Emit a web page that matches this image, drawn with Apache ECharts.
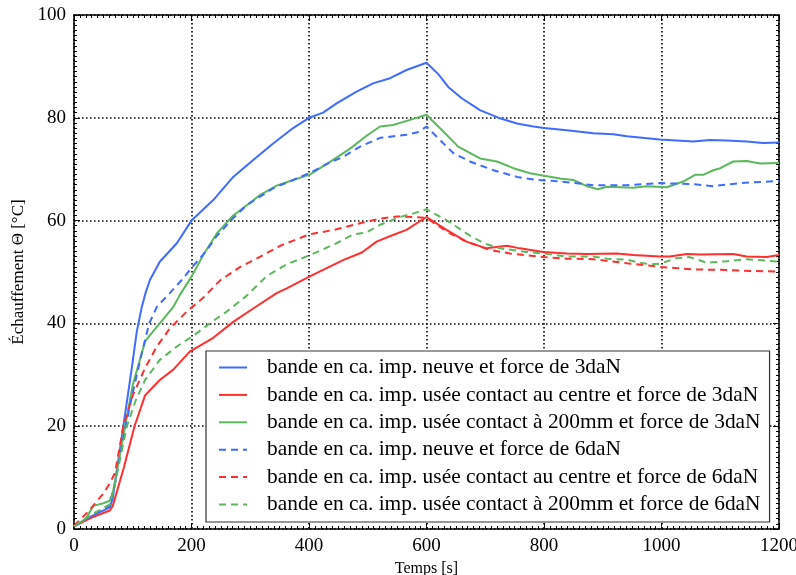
<!DOCTYPE html>
<html>
<head>
<meta charset="utf-8">
<script src="https://cdn.jsdelivr.net/npm/echarts@6/dist/echarts.min.js"></script>
<style>
html,body{margin:0;padding:0;background:#fff;}
#chart{width:796px;height:575px;}
</style>
</head>
<body>
<div id="chart"></div>
<script>
// Series data: [time (s), heating (°C)]
const neuve3 = [[0,0.5],[30,2.5],[61,4.2],[66,6],[84,20],[98,31],[107,38.5],[115,43],[122,46],[129,48.4],[146,52],[175,55.6],[200,60],[237,64],[271,68.5],[305,71.8],[339,75],[373,78],[400,80],[424,81],[447,82.8],[481,85.1],[509,86.7],[538,87.7],[566,89.3],[600,90.7],[620,88.5],[637,86],[660,83.8],[691,81.5],[725,79.9],[754,78.9],[782,78.3],[800,78],[839,77.6],[884,77],[918,76.8],[941,76.4],[997,75.8],[1054,75.4],[1082,75.7],[1111,75.6],[1145,75.4],[1173,75.1],[1200,75.2]];
const centre3 = [[0,0.5],[30,2.2],[61,3.6],[66,4.5],[85,12],[103,20],[121,26],[146,29],[169,31],[197,34.5],[237,37.2],[271,40.3],[305,42.9],[345,45.9],[362,46.8],[399,49],[424,50.4],[458,52.3],[490,53.8],[515,55.9],[543,57.2],[566,58.2],[600,60.7],[634,58.2],[668,55.9],[702,54.6],[737,55.1],[759,54.6],[799,53.9],[839,53.6],[873,53.5],[924,53.6],[952,53.3],[997,53],[1014,53],[1043,53.5],[1066,53.4],[1122,53.5],[1145,53],[1179,52.9],[1200,53.3]];
const mm200_3 = [[0,0.5],[20,2],[33,4.5],[50,5],[61,5.5],[66,7],[87,20],[100,28],[121,36.5],[135,38.5],[146,40],[169,43.2],[180,45.5],[200,49.1],[220,53.3],[243,57.5],[271,61],[294,63],[317,65],[345,66.8],[373,67.9],[402,69],[441,71.8],[470,74],[498,76.5],[521,78.3],[543,78.6],[572,79.6],[600,80.6],[629,77.3],[654,74.4],[691,72.1],[720,71.5],[748,70.2],[776,69.2],[827,68.2],[850,67.9],[873,66.7],[892,66.1],[907,66.6],[952,66.4],[975,66.7],[1009,66.5],[1037,67.6],[1057,68.9],[1071,68.9],[1088,69.8],[1100,70.2],[1122,71.5],[1145,71.6],[1168,71.1],[1200,71.2]];
const neuve6 = [[0,0.5],[30,2.6],[61,4.6],[70,9],[86,19],[100,26.5],[115,34],[128,40],[141,43.2],[163,45.9],[183,48.4],[200,50.8],[226,54.2],[243,57],[271,60.5],[294,63],[339,66.3],[373,67.9],[402,69.3],[430,71],[458,72.4],[487,74.4],[521,76.1],[566,76.7],[585,77.2],[600,78.3],[629,75],[646,73.1],[674,71.5],[714,69.8],[754,68.5],[782,68],[827,67.6],[884,66.9],[941,66.9],[997,67.3],[1054,67.1],[1088,66.7],[1134,67.3],[1200,67.7]];
const centre6 = [[0,0.6],[25,3.5],[50,6.9],[61,8.9],[70,11],[84,20],[100,26],[121,31.3],[141,35.5],[163,39],[192,42.3],[220,45],[249,48.4],[283,51],[317,53],[351,55.1],[400,57.3],[447,58.3],[487,59.5],[521,60.4],[549,60.8],[578,60.7],[600,60.5],[640,57.5],[668,55.9],[708,54.3],[742,53.6],[799,52.9],[839,52.6],[884,52.5],[941,51.7],[997,51],[1054,50.5],[1111,50.4],[1150,50.2],[1200,50.1]];
const mm200_6 = [[0,0.5],[30,2.8],[61,4.8],[70,9],[90,20],[105,25],[121,29],[146,32.9],[175,35.5],[203,37.6],[237,40.5],[260,42.3],[294,45.4],[328,49.2],[362,51.5],[400,53.2],[447,55.6],[475,57.3],[498,57.7],[521,59.2],[555,60.7],[578,61.4],[600,62.2],[634,60.1],[668,57.5],[697,55.6],[725,54.6],[770,53.9],[800,53.6],[839,53],[884,53],[907,52.6],[941,52.4],[963,51.8],[980,51.5],[997,51.6],[1026,52.7],[1048,52.9],[1077,51.8],[1111,52.1],[1145,52.5],[1200,52]];

const seriesNames = [
  'bande en ca. imp. neuve et force de 3daN',
  'bande en ca. imp. usée contact au centre et force de 3daN',
  'bande en ca. imp. usée contact à 200mm et force de 3daN',
  'bande en ca. imp. neuve et force de 6daN',
  'bande en ca. imp. usée contact au centre et force de 6daN',
  'bande en ca. imp. usée contact à 200mm et force de 6daN'
];
const seriesData = [neuve3, centre3, mm200_3, neuve6, centre6, mm200_6];
const xTicks = {min: 0, max: 1200, interval: 200};
const yTicks = {min: 0, max: 100, interval: 20};

const BLUE = '#3f6cff', RED = '#ff2f2f', GREEN = '#5cb85c';
const colors = [BLUE, RED, GREEN, BLUE, RED, GREEN];
const dashed = [false, false, false, true, true, true];
const serif = 'Liberation Serif';

function axisCommon(showLabel) {
  return {
    axisLine: {onZero: false, lineStyle: {color: '#000', width: 1.5}},
    axisTick: {show: true, inside: true, length: 6, lineStyle: {color: '#000', width: 1}},
    minorTick: {show: true, splitNumber: 20, length: 3, lineStyle: {color: '#000', width: 1}},
    axisLabel: {show: showLabel, fontFamily: serif, fontSize: 19, color: '#000',
      formatter: function (v) { return String(v); }},
  };
}

const option = {
  animation: false,
  backgroundColor: '#fff',
  grid: {left: 74, right: 17, top: 15, bottom: 46, containLabel: false, outerBoundsMode: 'none'},
  xAxis: [
    Object.assign({type: 'value', position: 'bottom', min: xTicks.min, max: xTicks.max, interval: xTicks.interval,
      splitLine: {show: true, lineStyle: {color: '#000', type: [1.5, 2.5], width: 1.6}},
      name: 'Temps [s]', nameLocation: 'middle', nameGap: 25,
      nameTextStyle: {fontFamily: serif, fontSize: 16, color: '#000'}}, axisCommon(true)),
    Object.assign({type: 'value', position: 'top', min: xTicks.min, max: xTicks.max, interval: xTicks.interval,
      splitLine: {show: false}}, axisCommon(false))
  ],
  yAxis: [
    Object.assign({type: 'value', position: 'left', min: yTicks.min, max: yTicks.max, interval: yTicks.interval,
      splitLine: {show: true, lineStyle: {color: '#000', type: [1.5, 2.5], width: 1.6}},
      name: 'Échauffement Θ [°C]', nameLocation: 'middle', nameGap: 46, nameRotate: 90,
      nameTextStyle: {fontFamily: serif, fontSize: 17, color: '#000'}}, axisCommon(true)),
    Object.assign({type: 'value', position: 'right', min: yTicks.min, max: yTicks.max, interval: yTicks.interval,
      splitLine: {show: false}}, axisCommon(false))
  ],
  legend: {
    show: true,
    orient: 'vertical',
    left: 206, top: 351,
    padding: [6, 9, 7, 12],
    itemGap: 6.4,
    itemWidth: 28, itemHeight: 14,
    backgroundColor: '#fff',
    borderColor: '#333', borderWidth: 1.2,
    itemStyle: {opacity: 0, borderWidth: 0},
    textStyle: {fontFamily: serif, fontSize: 21.4, color: '#000', lineHeight: 20, padding: [0, 0, 0, 15]},
    data: seriesNames
  },
  series: seriesNames.map((name, i) => ({
    name: name,
    type: 'line',
    xAxisIndex: 0, yAxisIndex: 0,
    data: seriesData[i],
    symbol: 'none', showSymbol: false,
    smooth: false,
    color: colors[i],
    lineStyle: {color: colors[i], width: 2, type: dashed[i] ? [7, 5] : 'solid'},
    z: 3
  }))
};

const chart = echarts.init(document.getElementById('chart'), null, {renderer: 'canvas'});
chart.setOption(option);
</script>
</body>
</html>
